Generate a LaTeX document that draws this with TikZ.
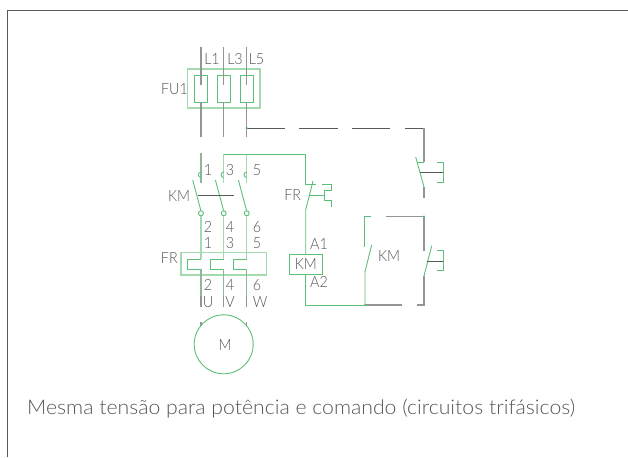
\documentclass[tikz,border=0pt]{standalone}
\usepackage{fontspec}
\setmainfont{Lato Light}
\newfontfamily\labfont[FakeStretch=0.92]{Lato Light}
\newfontfamily\capfont[FakeStretch=1.05]{Lato Light}
\definecolor{gr}{HTML}{5CBF76}
\definecolor{lgr}{HTML}{A3DBAE}
\definecolor{mgr}{HTML}{8FB89A}
\definecolor{gy}{HTML}{959595}
\definecolor{dk}{HTML}{5A5A5A}
\definecolor{txt}{HTML}{555555}
\tikzset{
  wire/.style={draw=gr,line width=0.9pt},
  lightwire/.style={draw=lgr,line width=1.1pt},
  power/.style={draw=gy,line width=1.1pt},
  mech/.style={draw=dk,line width=0.9pt},
  lab/.style={text=txt,font=\labfont\fontsize{15.5}{15.5}\selectfont,inner sep=0pt},
  jn/.style={circle,fill=gr,inner sep=0pt,minimum size=2.5pt},
  term/.style={circle,draw=gr,fill=white,line width=0.9pt,inner sep=0pt,minimum size=5pt},
}
\begin{document}
\begin{tikzpicture}[x=1pt,y=-1pt]
\useasboundingbox (0,0) rectangle (628,457);
% frame
\draw[draw=dk,line width=1pt] (7,457) -- (7,10.5) -- (628,10.5);
% fuses
\draw[lightwire] (187.7,69) rectangle (260,108);
\foreach \xa/\xb/\xc in {194.3/201/207.7,217.3/223.7/230.7,240/246.7/253.3}{
  \draw[wire] (\xa,75.7) rectangle (\xc,102.3);
  \draw[power] (\xb,47) -- (\xb,85);
  \draw[power] (\xb,102.3) -- (\xb,137);
}
\node[lab] (l1) at (212,59) {L1};
\node[lab] (l3) at (235,59) {L3};
\node[lab] (l5) at (256.5,59) {L5};
\node[lab] (fu) at (174.5,89) {FU1};
% mechanical link to control contact
\coordinate (m0) at (246.7,128);
\coordinate (m1) at (424,128);
\draw[mech] (m0) -- (285,128);
\draw[mech] (299,128) -- (338,128);
\draw[mech] (352,128) -- (390,128);
\draw[mech] (405,128) -- (m1);
\node[jn] at (m0) {};
% main contacts
\draw[draw=mgr,line width=1.1pt] (201,153) -- (201,183);
\draw[lightwire] (223.7,154) -- (223.7,183);
\draw[lightwire] (246.7,154) -- (246.7,183);
\foreach \x in {201,223.7,246.7}{
  \draw[wire] (\x,177.5) arc (90:270:2.7);
  \draw[wire] (\x-8.3,180) -- (\x,211);
  \draw[lightwire] (\x,216) -- (\x,259.3);
  \node[term] at (\x,213.3) {};
}
\draw[mech] (197.7,195) -- (234.3,195);
\node[lab] (km1) at (179,196.5) {KM};
\foreach \x/\t in {208/1,230/3,257/5}{\node[lab] at (\x,170) {\t};}
\foreach \x/\t in {208/2,230/4,257/6}{\node[lab] at (\x,227) {\t};}
\foreach \x/\t in {208/1,230/3,257/5}{\node[lab] at (\x,243) {\t};}
% thermal relay
\draw[lightwire] (181,252.7) rectangle (266.7,275);
\foreach \x/\y in {201/187.7,223.7/210.3,246.7/233.3}{
  \draw[wire] (\x,259.3) -- (\y,259.3) -- (\y,269) -- (\x,269);
  \draw[draw=mgr,line width=1.1pt] (\x,269) -- (\x,296);
  \draw[power] (\x,296) -- (\x,306.7);
  \draw[power] (\x,322) -- (\x,328);
}
\node[lab] (fr1) at (169.3,258) {FR};
\foreach \x/\t in {208/2,230/4,257/6}{\node[lab] at (\x,285) {\t};}
\node[lab] at (208,302) {U};
\node[lab] at (230,302) {V};
\node[lab] at (260,302) {W};
% motor
\node[circle,draw=gr,line width=0.9pt,fill=white,minimum size=59pt,inner sep=0pt] (motor) at (223.7,344.3) {};
\node[lab] at (225,345) {M};
% control: supply and FR NC contact
\node[wire,lab,rectangle,draw=gr,minimum width=33pt,minimum height=19.7pt] (coil) at (305.8,264.2) {KM};
\node[lab] at (319,244) {A1};
\node[lab] at (319,281.7) {A2};
\node[lab] (fr2) at (292.7,195) {FR};
\node[lab] (km2) at (389,256) {KM};
\draw[wire] (223.7,154) -- (305.7,154) -- (305.7,184) -- (315.7,184);
\draw[wire] (313,181) -- (305.7,210) -- (coil.north -| 305.7,0);
\draw[wire] (309,195) -- (324.3,195);
\draw[wire] (322,184.7) -- (331.7,184.7) -- (331.7,190) -- (324.3,190) -- (324.3,200.7) -- (331.7,200.7) -- (331.7,206.7);
\draw[wire] (coil.south -| 305.7,0) -- (305.7,305) -- (365,305);
% stop contact
\draw[power] (424,128) -- (424,162);
\draw[wire] (417,162) -- (424,162);
\draw[wire] (415.7,157) -- (424,187);
\draw[power] (424,187) -- (424,198);
\draw[mech] (420,172) -- (443,172);
\draw[wire] (437,162) -- (443,162) -- (443,182) -- (437,182);
% seal-in
\draw[wire] (365,305) -- (365,271.7) -- (371.7,245);
\draw[wire] (364.7,246.7) -- (364.7,216.7) -- (371,216.7);
\draw[power] (386,216.7) -- (424,216.7) -- (424,250.7);
\draw[wire] (431.7,245.7) -- (424,276);
\draw[power] (424,276) -- (424,305) -- (416.7,305);
\draw[power] (402.3,305) -- (365,305);
\draw[mech] (427.3,261) -- (443.3,261);
\draw[wire] (437.3,250.7) -- (443.3,250.7) -- (443.3,270.7) -- (437.3,270.7);
\node[jn] at (424,216.7) {};
\node[jn] at (365,305) {};
% caption
\node[text=txt,font=\capfont\fontsize{20.2}{20.2}\selectfont,inner sep=0pt,anchor=base west] (cap) at (27,414) {Mesma tensão para potência e comando (circuitos trifásicos)};
\end{tikzpicture}
\end{document}
